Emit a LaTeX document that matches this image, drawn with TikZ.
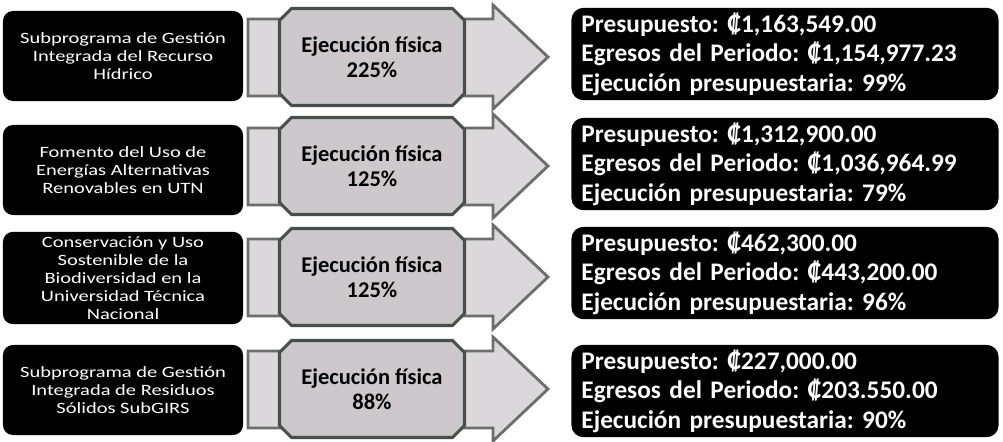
\documentclass[tikz,border=0pt]{standalone}
\usepackage{fontspec}
\setmainfont{Carlito}
\newfontfamily\progfont{Carlito}[FakeStretch=1.3]
\usetikzlibrary{shapes.misc}
\definecolor{arrowfill}{HTML}{DCD7DB}
\definecolor{execfill}{HTML}{CDC8CC}
\definecolor{arrowline}{HTML}{6A6F6B}
\definecolor{execline}{HTML}{465049}
\tikzset{
	program/.style = {rectangle, rounded corners=0.25cm, fill=black, text=white,
		minimum width=6cm, minimum height=2.25cm, align=center,
		font=\progfont\fontsize{11.2}{12.8}\selectfont},
	budget/.style = {rectangle, rounded corners=0.3cm, fill=black, text=white,
		minimum width=10.675cm, minimum height=2.3cm, inner xsep=0.25cm,
		text width=10.175cm, align=left,
		font=\bfseries\fontsize{18}{21}\selectfont},
	execbox/.style = {chamfered rectangle, chamfered rectangle xsep=0.15cm,
		chamfered rectangle ysep=0.15cm, draw=execline, line width=2.2pt,
		fill=execfill, minimum width=4.625cm, minimum height=2.425cm,
		align=center, font=\bfseries\fontsize{16}{18}\selectfont},
	bigarrow/.style = {draw=arrowline, line width=2pt, fill=arrowfill, line join=miter},
}
\frenchspacing

\begin{document}
\begin{tikzpicture}[x=0.025cm, y=-0.025cm]
	\useasboundingbox (0,0) rectangle (1003,441);
	% programas
	\foreach \c/\i/\name in {56/1/{Subprograma de Gestión\\Integrada del Recurso\\Hídrico},
			170/2/{Fomento del Uso de\\Energías Alternativas\\Renovables en UTN},
			278/3/{Conservación y Uso\\Sostenible de la\\Biodiversidad en la\\Universidad Técnica\\Nacional},
			390/4/{Subprograma de Gestión\\Integrada de Residuos\\Sólidos SubGIRS}} {
		\node[program] (prog\i) at (123,\c) {\name};
	}
	% flechas y ejecucion fisica
	\foreach \c/\i/\pct in {57/1/225, 166/2/125, 277/3/125, 389/4/88} {
		\draw[bigarrow] (248,\c-38) -- (493,\c-38) -- (493,\c-52) -- (548,\c)
			-- (493,\c+52) -- (493,\c+39) -- (248,\c+39) -- cycle;
		\node[execbox] (exec\i) at (372,\c) {Ejecución física\\\pct\%};
	}
	% presupuesto
	\foreach \c/\i/\pres/\egr/\ejec in {54/1/{1,163,549.00}/{1,154,977.23}/99,
			164/2/{1,312,900.00}/{1,036,964.99}/79,
			273/3/{462,300.00}/{443,200.00}/96,
			391/4/{227,000.00}/{203.550.00}/90} {
		\node[budget] (budget\i) at (785,\c) {Presupuesto: ₡\pres\\
			Egresos del Periodo: ₡\egr\\
			Ejecución presupuestaria: \ejec\%};
	}
\end{tikzpicture}
\end{document}
